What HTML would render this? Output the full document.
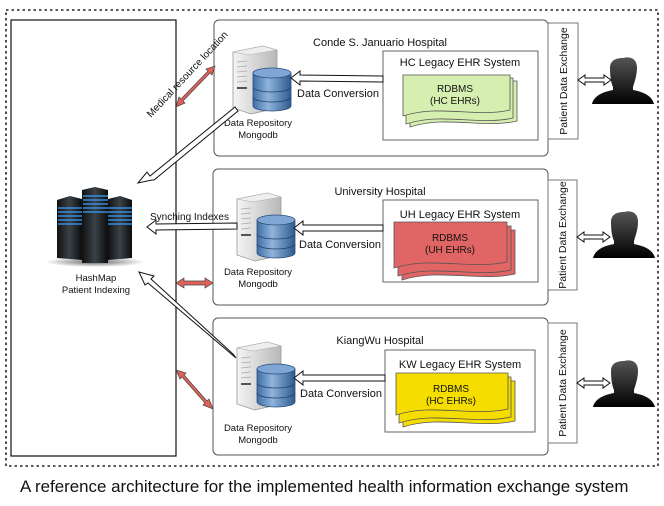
<!DOCTYPE html>
<html><head><meta charset="utf-8"><style>
html,body{margin:0;padding:0;background:#fff;width:664px;height:506px;overflow:hidden}
svg{display:block}
text{font-family:"Liberation Sans",sans-serif;fill:#111}
</style></head><body>
<svg width="664" height="506" viewBox="0 0 664 506" xmlns="http://www.w3.org/2000/svg">
<defs>
<linearGradient id="srv" x1="0" x2="1"><stop offset="0" stop-color="#f4f4f4"/><stop offset="1" stop-color="#b8b8b8"/></linearGradient>
<linearGradient id="db" x1="0" x2="1"><stop offset="0" stop-color="#3f6ea6"/><stop offset="0.4" stop-color="#8fb4dc"/><stop offset="1" stop-color="#2e5a8e"/></linearGradient>
<linearGradient id="tw" x1="0" x2="1"><stop offset="0" stop-color="#111"/><stop offset="0.5" stop-color="#3a4248"/><stop offset="1" stop-color="#0c0c0c"/></linearGradient>
<linearGradient id="pp" x1="0" y1="0" x2="0" y2="1"><stop offset="0" stop-color="#555"/><stop offset="1" stop-color="#000"/></linearGradient>
<radialGradient id="sh"><stop offset="0" stop-color="#000" stop-opacity=".6"/><stop offset="1" stop-color="#000" stop-opacity="0"/></radialGradient>
<g id="server">
 <path d="M0,6 L30,0 L44,4 L44,62 L18,68 L0,62 Z" fill="url(#srv)" stroke="#999" stroke-width="0.8"/>
 <path d="M0,6 L30,0 L44,4 L16,9 Z" fill="#eee" stroke="#aaa" stroke-width="0.5"/>
 <g stroke="#aaa" stroke-width="0.8"><line x1="4" y1="16" x2="14" y2="15"/><line x1="4" y1="21" x2="14" y2="20"/><line x1="4" y1="26" x2="14" y2="25"/><line x1="4" y1="31" x2="14" y2="30"/><line x1="4" y1="36" x2="14" y2="35"/></g>
 <rect x="4" y="41" width="10" height="2" fill="#555"/>
 <g transform="translate(20,22)">
  <path d="M0,5 L0,38 A19,5 0 0 0 38,38 L38,5 Z" fill="url(#db)" stroke="#2b4f7c" stroke-width="0.8"/>
  <path d="M0,19 A19,5 0 0 0 38,19 M0,29 A19,5 0 0 0 38,29" fill="none" stroke="#1f3f66" stroke-width="0.8"/>
  <ellipse cx="19" cy="5" rx="19" ry="5" fill="#7fa6d4" stroke="#2b4f7c" stroke-width="0.8"/>
 </g>
</g>
<g id="person">
 <path d="M19,2 C27,0 33,3 33,12 C33,20 30,27 29,31 L29,34 C40,36 48,40 50,48 L-12,48 C-10,40 -2,36 9,34 L9,31 C7,27 6,20 6,12 C6,5 11,2 19,2 Z" fill="url(#pp)"/>
</g>
</defs>

<rect x="6" y="10" width="652" height="456" fill="none" stroke="#222" stroke-width="1.6" stroke-dasharray="2.5,3"/>
<rect x="11" y="20" width="165" height="436" fill="#fff" stroke="#111" stroke-width="1.2"/>

<g fill="#fff" stroke="#555" stroke-width="1">
<rect x="214" y="20" width="334" height="136" rx="5"/>
<rect x="213" y="169" width="335" height="136" rx="5"/>
<rect x="213" y="318" width="335" height="137" rx="5"/>
<rect x="548" y="23" width="30" height="116" stroke="#777"/>
<rect x="548" y="180" width="29" height="110" stroke="#777"/>
<rect x="548" y="323" width="29" height="120" stroke="#777"/>
<rect x="383" y="51" width="155" height="89" stroke="#666"/>
<rect x="383" y="200" width="155" height="82" stroke="#666"/>
<rect x="385" y="350" width="150" height="82" stroke="#666"/>
</g>
<g font-size="11" text-anchor="middle">
<text x="380" y="46">Conde S. Januario Hospital</text>
<text x="380" y="195">University Hospital</text>
<text x="380" y="344">KiangWu Hospital</text>
<text x="460" y="66">HC Legacy EHR System</text>
<text x="460" y="218">UH Legacy EHR System</text>
<text x="460" y="368">KW Legacy EHR System</text>
</g>
<g font-size="10.5" text-anchor="middle">
<text transform="translate(567,81) rotate(-90)">Patient Data Exchange</text>
<text transform="translate(566,235) rotate(-90)">Patient Data Exchange</text>
<text transform="translate(566,383) rotate(-90)">Patient Data Exchange</text>
</g>

<g stroke="#555" stroke-width="0.8">
<g fill="#d6eeb0">
<path d="M410,81 h107 v40 c-35,8 -70,-6 -107,6 z"/>
<path d="M406,78 h107 v40 c-35,8 -70,-6 -107,6 z"/>
<path d="M403,75 h107 v35 c-35,8 -70,-6 -107,6 z"/>
</g>
<g fill="#e26565">
<path d="M402,230 h113 v44 c-37,8 -75,-6 -113,6 z"/>
<path d="M398,226 h113 v44 c-37,8 -75,-6 -113,6 z"/>
<path d="M394,222 h113 v40 c-37,8 -75,-6 -113,6 z"/>
</g>
<g fill="#f5dd00">
<path d="M403,381 h112 v40 c-37,8 -75,-6 -112,6 z"/>
<path d="M399,377 h112 v40 c-37,8 -75,-6 -112,6 z"/>
<path d="M396,373 h112 v36 c-37,8 -75,-6 -112,6 z"/>
</g>
</g>
<g font-size="10" text-anchor="middle">
<text x="455" y="92">RDBMS</text><text x="455" y="104">(HC EHRs)</text>
<text x="450" y="241">RDBMS</text><text x="450" y="253">(UH EHRs)</text>
<text x="451" y="392">RDBMS</text><text x="451" y="404">(HC EHRs)</text>
</g>

<use href="#server" x="233" y="46"/>
<use href="#server" x="237" y="193"/>
<use href="#server" x="237" y="342"/>
<g font-size="9.5" text-anchor="middle">
<text x="258" y="126">Data Repository</text><text x="258" y="138">Mongodb</text>
<text x="258" y="275">Data Repository</text><text x="258" y="287">Mongodb</text>
<text x="258" y="431">Data Repository</text><text x="258" y="443">Mongodb</text>
</g>

<g fill="#fff" stroke="#111" stroke-width="1">
<path d="M383,76 L300,75 L300,71 L291,78 L300,85 L300,81 L383,82 Z"/>
<path d="M383,225 L303,225 L303,221 L294,228 L303,235 L303,231 L383,231 Z"/>
<path d="M385,375 L303,375 L303,371 L294,378 L303,385 L303,381 L385,381 Z"/>
<path d="M235,107 L150,176 L147,172 L138,183 L152,180 L154,180 L238,111 Z"/>
<path d="M237,223 L156,224 L156,220 L147,227 L156,234 L156,230 L237,229 Z"/>
<path d="M233,354 L151,279 L154,276 L139,272 L145,285 L148,283 L236,358 Z"/>
</g>
<g font-size="11">
<text x="297" y="97">Data Conversion</text>
<text x="299" y="248">Data Conversion</text>
<text x="300" y="397">Data Conversion</text>
<text x="150" y="220" font-size="10">Synching Indexes</text>
</g>
<text transform="translate(151,118) rotate(-47)" font-size="10">Medical resource location</text>

<g fill="#e0605a" stroke="#444" stroke-width="0.7">
<path d="M176,107 L179,97 L181,99 L208,71 L206,69 L215,66 L212,75 L210,73 L183,101 L185,103 Z"/>
<path d="M176,283 L184,278 L184,281 L205,281 L205,278 L213,283 L205,288 L205,285 L184,285 L184,288 Z"/>
<path d="M176,370 L186,373 L184,375 L207,401 L209,399 L213,409 L203,405 L205,403 L182,377 L180,379 Z"/>
</g>

<ellipse cx="95" cy="262" rx="50" ry="5" fill="url(#sh)"/>
<g>
<path d="M57,200 L70,196 L82,199 L82,260 L57,258 Z" fill="url(#tw)"/>
<path d="M108,199 L120,196 L132,200 L132,258 L108,260 Z" fill="url(#tw)"/>
<path d="M82,190 L95,187 L108,190 L108,263 L82,263 Z" fill="url(#tw)"/>
<g stroke="#3aa0ff" stroke-width="1.2">
<path d="M58,208 h24 M58,212 h24 M58,216 h24 M58,220 h24 M58,224 h24"/>
<path d="M108,208 h24 M108,212 h24 M108,216 h24 M108,220 h24 M108,224 h24"/>
<path d="M83,196 h25 M83,200 h25 M83,204 h25 M83,208 h25 M83,212 h25"/>
</g>
</g>
<g font-size="9.5" text-anchor="middle">
<text x="96" y="281">HashMap</text><text x="96" y="293">Patient Indexing</text>
</g>

<use href="#person" x="604" y="56"/>
<use href="#person" x="605" y="210"/>
<use href="#person" x="605" y="359"/>
<g fill="#fff" stroke="#111" stroke-width="1">
<path d="M578,80 L585,75 L585,78 L604,78 L604,75 L611,80 L604,85 L604,82 L585,82 L585,85 Z"/>
<path d="M577,237 L584,232 L584,235 L603,235 L603,232 L610,237 L603,242 L603,239 L584,239 L584,242 Z"/>
<path d="M577,383 L584,378 L584,381 L603,381 L603,378 L610,383 L603,388 L603,385 L584,385 L584,388 Z"/>
</g>

<text x="20" y="492" font-size="16.9">A reference architecture for the implemented health information exchange system</text>
</svg>
</body></html>
